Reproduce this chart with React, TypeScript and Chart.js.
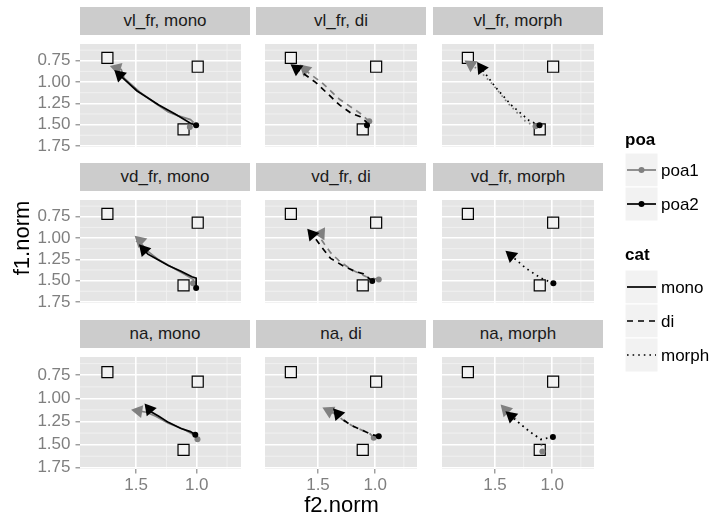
import React, { useEffect, useRef } from 'react';
import { Chart, registerables } from 'chart.js';

Chart.register(...registerables);

const FONT = "'Liberation Sans', Arial, Helvetica, sans-serif";

// ---------- data ----------
const facetRows = ['vl_fr', 'vd_fr', 'na'];
const facetCols = ['mono', 'di', 'morph'];
const poaLevels = ['poa1', 'poa2'];
const catLevels = ['mono', 'di', 'morph'];

const xTicks = [1.0, 1.5];
const yTicks = [0.75, 1.0, 1.25, 1.5, 1.75];
const xMinorBreaks = [0.75, 1.25];
const yMinorBreaks = [0.625, 0.875, 1.125, 1.375, 1.625];
const xLimits = [0.635, 1.963];
const yLimits = [0.553, 1.763];

// reference vowel targets (squares)
const refF2 = [1.737, 0.992, 1.109];
const refF1 = [0.716, 0.82, 1.556];

// vl_fr
const vlMonoPoa1F2 = [1.057, 1.031, 1.052, 1.157, 1.235, 1.338, 1.469, 1.599, 1.623, 1.658];
const vlMonoPoa1F1 = [1.528, 1.468, 1.441, 1.394, 1.352, 1.252, 1.119, 0.953, 0.853, 0.838];
const vlMonoPoa2F2 = [1.005, 1.052, 1.182, 1.313, 1.495, 1.635];
const vlMonoPoa2F1 = [1.508, 1.484, 1.372, 1.269, 1.102, 0.918];
const vlDiPoa1F2 = [1.052, 1.13, 1.312, 1.469, 1.572, 1.612];
const vlDiPoa1F1 = [1.461, 1.369, 1.202, 1.003, 0.903, 0.853];
const vlDiPoa2F2 = [1.072, 1.078, 1.13, 1.208, 1.312, 1.39, 1.521, 1.687];
const vlDiPoa2F1 = [1.508, 1.468, 1.408, 1.369, 1.269, 1.169, 1.003, 0.843];
const vlMorphPoa1F2 = [1.146, 1.229, 1.385, 1.515, 1.646, 1.711];
const vlMorphPoa1F1 = [1.518, 1.468, 1.252, 1.035, 0.853, 0.796];
const vlMorphPoa2F2 = [1.111, 1.203, 1.359, 1.49, 1.593, 1.619];
const vlMorphPoa2F1 = [1.508, 1.451, 1.269, 1.069, 0.886, 0.836];
// vd_fr
const vdMonoPoa1F2 = [1.031, 1.026, 1.104, 1.208, 1.313, 1.403, 1.455, 1.49, 1.467];
const vdMonoPoa1F1 = [1.531, 1.488, 1.422, 1.339, 1.256, 1.156, 1.072, 1.042, 1.032];
const vdMonoPoa2F2 = [1.005, 1.005, 1.04, 1.13, 1.235, 1.338, 1.403, 1.435];
const vdMonoPoa2F1 = [1.588, 1.471, 1.455, 1.389, 1.322, 1.239, 1.189, 1.139];
const vdDiPoa1F2 = [0.969, 1.078, 1.208, 1.312, 1.39, 1.443, 1.49, 1.474];
const vdDiPoa1F1 = [1.488, 1.455, 1.372, 1.272, 1.172, 1.073, 0.98, 0.947];
const vdDiPoa2F2 = [1.026, 1.104, 1.182, 1.286, 1.39, 1.469, 1.521, 1.552];
const vdDiPoa2F1 = [1.505, 1.421, 1.389, 1.322, 1.239, 1.106, 1.007, 0.957];
const vdMorphPoa2F2 = [0.99, 1.099, 1.229, 1.359];
const vdMorphPoa2F1 = [1.531, 1.471, 1.356, 1.206];
// na
const naMonoPoa1F2 = [0.994, 1.026, 1.104, 1.234, 1.338, 1.416, 1.481];
const naMonoPoa1F1 = [1.442, 1.392, 1.336, 1.269, 1.193, 1.15, 1.136];
const naMonoPoa2F2 = [1.012, 1.052, 1.13, 1.234, 1.313, 1.37, 1.391];
const naMonoPoa2F1 = [1.392, 1.359, 1.326, 1.259, 1.193, 1.15, 1.117];
const naDiPoa1F2 = [1.013, 1.052, 1.117, 1.182, 1.273, 1.338, 1.403];
const naDiPoa1F1 = [1.425, 1.375, 1.343, 1.309, 1.243, 1.176, 1.136];
const naDiPoa2F2 = [0.969, 1.026, 1.13, 1.208, 1.286, 1.326];
const naDiPoa2F1 = [1.408, 1.392, 1.336, 1.293, 1.226, 1.169];
const naMorphPoa1F2 = [1.086, 1.094, 1.099, 1.203, 1.307, 1.398, 1.406];
const naMorphPoa1F1 = [1.575, 1.508, 1.442, 1.359, 1.243, 1.093, 1.126];
const naMorphPoa2F2 = [0.994, 1.099, 1.177, 1.281, 1.359];
const naMorphPoa2F1 = [1.418, 1.442, 1.376, 1.276, 1.193];

type Path = { f2: number[]; f1: number[] };
const panelPaths: Record<string, { poa1?: Path; poa2?: Path }> = {
  'vl_fr|mono': { poa1: { f2: vlMonoPoa1F2, f1: vlMonoPoa1F1 }, poa2: { f2: vlMonoPoa2F2, f1: vlMonoPoa2F1 } },
  'vl_fr|di': { poa1: { f2: vlDiPoa1F2, f1: vlDiPoa1F1 }, poa2: { f2: vlDiPoa2F2, f1: vlDiPoa2F1 } },
  'vl_fr|morph': { poa1: { f2: vlMorphPoa1F2, f1: vlMorphPoa1F1 }, poa2: { f2: vlMorphPoa2F2, f1: vlMorphPoa2F1 } },
  'vd_fr|mono': { poa1: { f2: vdMonoPoa1F2, f1: vdMonoPoa1F1 }, poa2: { f2: vdMonoPoa2F2, f1: vdMonoPoa2F1 } },
  'vd_fr|di': { poa1: { f2: vdDiPoa1F2, f1: vdDiPoa1F1 }, poa2: { f2: vdDiPoa2F2, f1: vdDiPoa2F1 } },
  'vd_fr|morph': { poa2: { f2: vdMorphPoa2F2, f1: vdMorphPoa2F1 } },
  'na|mono': { poa1: { f2: naMonoPoa1F2, f1: naMonoPoa1F1 }, poa2: { f2: naMonoPoa2F2, f1: naMonoPoa2F1 } },
  'na|di': { poa1: { f2: naDiPoa1F2, f1: naDiPoa1F1 }, poa2: { f2: naDiPoa2F2, f1: naDiPoa2F1 } },
  'na|morph': { poa1: { f2: naMorphPoa1F2, f1: naMorphPoa1F1 }, poa2: { f2: naMorphPoa2F2, f1: naMorphPoa2F1 } },
};

// ---------- styles ----------
const poaColors: Record<string, string> = { poa1: '#808080', poa2: '#000000' };
const catDash: Record<string, number[]> = { mono: [], di: [6, 5], morph: [1.6, 4] };

const PANEL_W = 170;
const PANEL_H = 121;
const PANEL_LEFTS = [80, 256, 433];
const PANEL_TOPS = [35, 191, 348];
const STRIP_H = 28;
const Y_AXIS_W = 60;
const X_AXIS_H = 40;

const panelBgPlugin = {
  id: 'panelBg',
  beforeDraw(chart: any) {
    const { ctx, chartArea: a, scales } = chart;
    const xs = scales.x;
    const ys = scales.y;
    ctx.save();
    ctx.fillStyle = '#E5E5E5';
    ctx.fillRect(a.left, a.top, a.right - a.left, a.bottom - a.top);
    ctx.strokeStyle = '#F2F2F2';
    ctx.lineWidth = 0.9;
    ctx.beginPath();
    xMinorBreaks.forEach((v) => {
      const p = xs.getPixelForValue(v);
      ctx.moveTo(p, a.top);
      ctx.lineTo(p, a.bottom);
    });
    yMinorBreaks.forEach((v) => {
      const p = ys.getPixelForValue(v);
      ctx.moveTo(a.left, p);
      ctx.lineTo(a.right, p);
    });
    ctx.stroke();
    ctx.restore();
  },
};

const arrowRotation = (c: any) => {
  const d = c.dataset.data;
  const n = d.length;
  if (c.dataIndex !== n - 1 || n < 2) return 0;
  const xs = c.chart.scales.x;
  const ys = c.chart.scales.y;
  const dx = xs.getPixelForValue(d[n - 1].x) - xs.getPixelForValue(d[n - 2].x);
  const dy = ys.getPixelForValue(d[n - 1].y) - ys.getPixelForValue(d[n - 2].y);
  return (Math.atan2(dx, -dy) * 180) / Math.PI;
};

function pathDataset(p: Path, poa: string, cat: string) {
  const n = p.f2.length;
  const color = poaColors[poa];
  return {
    label: poa,
    data: p.f2.map((v, i) => ({ x: v, y: p.f1[i] })),
    showLine: true,
    borderColor: color,
    borderWidth: 1.7,
    borderDash: catDash[cat],
    tension: 0,
    pointStyle: (c: any) => (c.dataIndex === 0 ? 'circle' : 'triangle'),
    pointRadius: (c: any) => (c.dataIndex === 0 ? 3 : c.dataIndex === n - 1 ? 7.5 : 0),
    pointHoverRadius: 0,
    pointRotation: arrowRotation,
    pointBackgroundColor: color,
    pointBorderColor: color,
    pointBorderWidth: 0,
  };
}

function Panel({ r, c }: { r: number; c: number }) {
  const ref = useRef<HTMLCanvasElement>(null);
  const showY = c === 0;
  const showX = r === facetRows.length - 1;
  const w = PANEL_W + (showY ? Y_AXIS_W : 0);
  const h = PANEL_H + (showX ? X_AXIS_H : 0);
  const left = PANEL_LEFTS[c] - (showY ? Y_AXIS_W : 0);
  const top = PANEL_TOPS[r];

  useEffect(() => {
    if (!ref.current) return;
    const key = `${facetRows[r]}|${facetCols[c]}`;
    const paths = panelPaths[key];
    const cat = facetCols[c];
    const datasets: any[] = [];
    // poa2 first (drawn on top), then poa1, then squares (bottom)
    ['poa2', 'poa1'].forEach((poa) => {
      const p = (paths as any)[poa];
      if (p) datasets.push(pathDataset(p, poa, cat));
    });
    datasets.push({
      label: 'ref',
      data: refF2.map((v, i) => ({ x: v, y: refF1[i] })),
      showLine: false,
      pointStyle: 'rect',
      pointRadius: 7.8,
      pointHoverRadius: 7.8,
      pointBackgroundColor: '#F2F2F2',
      pointBorderColor: '#000000',
      pointBorderWidth: 1.2,
    });

    const chart = new Chart(ref.current, {
      type: 'scatter',
      data: { datasets },
      plugins: [panelBgPlugin],
      options: {
        animation: false,
        responsive: false,
        devicePixelRatio: 1,
        events: [],
        layout: { padding: 0 },
        plugins: { legend: { display: false }, tooltip: { enabled: false } },
        scales: {
          x: {
            type: 'linear',
            reverse: true,
            min: xLimits[0],
            max: xLimits[1],
            afterBuildTicks: (s: any) => {
              s.ticks = xTicks.map((v) => ({ value: v }));
            },
            afterFit: (s: any) => {
              s.height = showX ? X_AXIS_H : 0;
              s.paddingLeft = 0;
              s.paddingRight = 0;
              s.paddingTop = 0;
              s.paddingBottom = 0;
            },
            grid: {
              color: '#FFFFFF',
              lineWidth: 1.6,
              drawTicks: showX,
              tickLength: 4.5,
              tickColor: '#7F7F7F',
              tickWidth: 1.1,
            },
            border: { display: false },
            ticks: {
              display: showX,
              color: '#7F7F7F',
              font: { family: FONT, size: 17 },
              padding: 2,
              maxRotation: 0,
              autoSkip: false,
              callback: (v: any) => Number(v).toFixed(1),
            },
          },
          y: {
            type: 'linear',
            reverse: true,
            min: yLimits[0],
            max: yLimits[1],
            afterBuildTicks: (s: any) => {
              s.ticks = yTicks.map((v) => ({ value: v }));
            },
            afterFit: (s: any) => {
              s.width = showY ? Y_AXIS_W : 0;
              s.paddingLeft = 0;
              s.paddingRight = 0;
              s.paddingTop = 0;
              s.paddingBottom = 0;
            },
            grid: {
              color: '#FFFFFF',
              lineWidth: 1.6,
              drawTicks: showY,
              tickLength: 4.5,
              tickColor: '#7F7F7F',
              tickWidth: 1.1,
            },
            border: { display: false },
            ticks: {
              display: showY,
              color: '#7F7F7F',
              font: { family: FONT, size: 17 },
              padding: 5,
              autoSkip: false,
              callback: (v: any) => Number(v).toFixed(2),
            },
          },
        },
      } as any,
    });
    return () => chart.destroy();
  }, []);

  return (
    <canvas
      ref={ref}
      width={w}
      height={h}
      style={{ position: 'absolute', left, top, width: w, height: h }}
    />
  );
}

function Strip({ r, c }: { r: number; c: number }) {
  return (
    <div
      style={{
        position: 'absolute',
        left: PANEL_LEFTS[c],
        top: PANEL_TOPS[r] - STRIP_H,
        width: PANEL_W,
        height: STRIP_H,
        background: '#CCCCCC',
        display: 'flex',
        alignItems: 'center',
        justifyContent: 'center',
        fontFamily: FONT,
        fontSize: 17,
        color: '#1A1A1A',
        whiteSpace: 'nowrap',
      }}
    >
      {`${facetRows[r]}, ${facetCols[c]}`}
    </div>
  );
}

const KEY_X = 625;
const KEY_W = 33;
const KEY_H = 34;
const poaKeyTops = [153, 187];
const catKeyTops = [270, 304, 338];

function Legend() {
  const textStyle = (top: number, bold = false): React.CSSProperties => ({
    position: 'absolute',
    left: bold ? KEY_X : KEY_X + KEY_W + 3,
    top,
    transform: 'translateY(-50%)',
    fontFamily: FONT,
    fontSize: 17,
    fontWeight: bold ? 'bold' : 'normal',
    lineHeight: 1,
    color: '#000',
    whiteSpace: 'nowrap',
  });
  return (
    <>
      <svg
        width={715}
        height={520}
        style={{ position: 'absolute', left: 0, top: 0, pointerEvents: 'none' }}
      >
        {poaLevels.map((poa, i) => {
          const t = poaKeyTops[i];
          const cy = t + KEY_H / 2;
          return (
            <g key={poa}>
              <rect x={KEY_X} y={t} width={KEY_W} height={KEY_H} fill="#F2F2F2" stroke="#FFFFFF" strokeWidth={1} />
              <line x1={KEY_X + 2} y1={cy} x2={KEY_X + KEY_W - 2} y2={cy} stroke={poaColors[poa]} strokeWidth={1.7} />
              <circle cx={KEY_X + KEY_W / 2} cy={cy} r={3} fill={poaColors[poa]} />
            </g>
          );
        })}
        {catLevels.map((cat, i) => {
          const t = catKeyTops[i];
          const cy = t + KEY_H / 2;
          return (
            <g key={cat}>
              <rect x={KEY_X} y={t} width={KEY_W} height={KEY_H} fill="#F2F2F2" stroke="#FFFFFF" strokeWidth={1} />
              <line
                x1={KEY_X + 2}
                y1={cy}
                x2={KEY_X + KEY_W - 2}
                y2={cy}
                stroke="#000"
                strokeWidth={1.7}
                strokeDasharray={catDash[cat].length ? catDash[cat].join(' ') : undefined}
              />
            </g>
          );
        })}
      </svg>
      <div style={textStyle(139, true)}>poa</div>
      {poaLevels.map((poa, i) => (
        <div key={poa} style={textStyle(poaKeyTops[i] + KEY_H / 2)}>{poa}</div>
      ))}
      <div style={textStyle(254, true)}>cat</div>
      {catLevels.map((cat, i) => (
        <div key={cat} style={textStyle(catKeyTops[i] + KEY_H / 2)}>{cat}</div>
      ))}
    </>
  );
}

export default function App() {
  const panelsRight = PANEL_LEFTS[2] + PANEL_W;
  const xCenter = (PANEL_LEFTS[0] + panelsRight) / 2;
  const yCenter = (PANEL_TOPS[0] - STRIP_H + PANEL_TOPS[2] + PANEL_H) / 2;
  return (
    <div
      style={{
        position: 'fixed',
        left: 0,
        top: 0,
        width: 715,
        height: 520,
        background: '#FFFFFF',
        overflow: 'hidden',
      }}
    >
      {facetRows.map((_, r) =>
        facetCols.map((__, c) => (
          <React.Fragment key={`${r}-${c}`}>
            <Strip r={r} c={c} />
            <Panel r={r} c={c} />
          </React.Fragment>
        ))
      )}
      <div
        style={{
          position: 'absolute',
          left: xCenter,
          top: 505,
          transform: 'translate(-50%, -50%)',
          fontFamily: FONT,
          fontSize: 22,
          lineHeight: 1,
          color: '#000',
          whiteSpace: 'nowrap',
        }}
      >
        f2.norm
      </div>
      <div
        style={{
          position: 'absolute',
          left: 22,
          top: yCenter,
          transform: 'translate(-50%, -50%) rotate(-90deg)',
          fontFamily: FONT,
          fontSize: 22,
          lineHeight: 1,
          color: '#000',
          whiteSpace: 'nowrap',
        }}
      >
        f1.norm
      </div>
      <Legend />
    </div>
  );
}
